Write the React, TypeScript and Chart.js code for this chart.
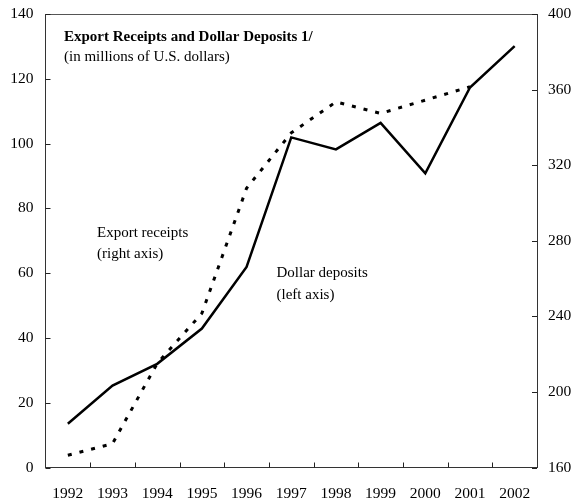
import React, { useEffect, useRef } from 'react';
import { Chart, registerables } from 'chart.js';

Chart.register(...registerables);

const FONT = '"Liberation Serif", "Times New Roman", serif';

const years = ['1992', '1993', '1994', '1995', '1996', '1997', '1998', '1999', '2000', '2001', '2002'];
// Dollar deposits, left axis (millions of U.S. dollars)
const dollarDeposits = [13.5, 25.3, 32.0, 42.9, 61.9, 101.9, 98.2, 106.4, 90.8, 117.3, 130.1];
// Export receipts, right axis (millions of U.S. dollars)
const exportReceipts: (number | null)[] = [166.5, 172.6, 215.1, 241.6, 307.8, 337.1, 353.5, 347.4, 354.4, 361.5, null];

const leftMin = 0;
const leftMax = 140;
const leftStep = 20;
const rightMin = 160;
const rightMax = 400;
const rightStep = 40;

const titleText = 'Export Receipts and Dollar Deposits 1/';
const subtitleText = '(in millions of U.S. dollars)';
const exportLabel = ['Export receipts', '(right axis)'];
const depositLabel = ['Dollar deposits', '(left axis)'];

const decorPlugin = {
  id: 'decor',
  afterDatasetsDraw(chart: any) {
    const { ctx, chartArea, scales } = chart;
    const { left, right, top, bottom } = chartArea;
    const tl = 5;
    ctx.save();
    // top border
    ctx.strokeStyle = '#555';
    ctx.lineWidth = 1;
    ctx.beginPath();
    ctx.moveTo(left, top + 0.5);
    ctx.lineTo(right, top + 0.5);
    ctx.stroke();
    ctx.strokeStyle = '#222';
    // inside tick marks on x axis at category boundaries
    const x = scales.x;
    ctx.beginPath();
    for (let i = 0; i < years.length - 1; i++) {
      const px = Math.round((x.getPixelForValue(i) + x.getPixelForValue(i + 1)) / 2) + 0.5;
      ctx.moveTo(px, bottom);
      ctx.lineTo(px, bottom - tl);
    }
    // left axis ticks
    const yL = scales.yL;
    yL.ticks.forEach((t: any) => {
      const py = Math.round(yL.getPixelForValue(t.value)) + 0.5;
      ctx.moveTo(left, py);
      ctx.lineTo(left + tl, py);
    });
    const yR = scales.yR;
    yR.ticks.forEach((t: any) => {
      const py = Math.round(yR.getPixelForValue(t.value)) + 0.5;
      ctx.moveTo(right, py);
      ctx.lineTo(right - tl, py);
    });
    ctx.stroke();

    // texts
    ctx.fillStyle = '#000';
    ctx.textBaseline = 'middle';
    ctx.textAlign = 'left';
    ctx.font = `bold 15px ${FONT}`;
    ctx.fillText(titleText, left + 18.5, top + 23);
    ctx.font = `15px ${FONT}`;
    ctx.fillText(subtitleText, left + 18.5, top + 43);
    ctx.fillText(exportLabel[0], left + 51.5, top + 219);
    ctx.fillText(exportLabel[1], left + 51.5, top + 240);
    ctx.fillText(depositLabel[0], left + 231, top + 259);
    ctx.fillText(depositLabel[1], left + 231, top + 281);
    ctx.restore();
  },
};

export default function App() {
  const ref = useRef<HTMLCanvasElement>(null);
  useEffect(() => {
    const canvas = ref.current;
    if (!canvas) return;
    const tickFont = { family: FONT, size: 15.5 };
    const chart = new Chart(canvas, {
      type: 'line',
      data: {
        labels: years,
        datasets: [
          {
            label: 'Dollar deposits (left axis)',
            data: dollarDeposits,
            yAxisID: 'yL',
            borderColor: '#000',
            borderWidth: 2.5,
            pointRadius: 0,
            tension: 0,
            fill: false,
          },
          {
            label: 'Export receipts (right axis)',
            data: exportReceipts,
            yAxisID: 'yR',
            borderColor: '#000',
            borderWidth: 3,
            borderDash: [4, 8],
            pointRadius: 0,
            tension: 0,
            fill: false,
            spanGaps: false,
          },
        ],
      },
      options: {
        responsive: false,
        animation: false,
        events: [],
        layout: { padding: { top: 14, left: 0, right: 0, bottom: 0 } },
        plugins: {
          legend: { display: false },
          tooltip: { enabled: false },
          title: { display: false },
        },
        scales: {
          x: {
            type: 'category',
            offset: true,
            grid: { display: false, drawTicks: false },
            border: { display: true, color: '#333', width: 1 },
            ticks: { color: '#000', font: tickFont, padding: 17, maxRotation: 0, autoSkip: false },
            afterFit: (s: any) => {
              s.height = 34.5;
              s.paddingLeft = 0;
              s.paddingRight = 0;
            },
          },
          yL: {
            type: 'linear',
            position: 'left',
            min: leftMin,
            max: leftMax,
            grid: { display: false, drawTicks: false },
            border: { display: true, color: '#333', width: 1 },
            ticks: { stepSize: leftStep, color: '#000', font: tickFont, padding: 12 },
            afterFit: (s: any) => {
              s.width = 45.5;
              s.paddingTop = 0;
              s.paddingBottom = 0;
            },
          },
          yR: {
            type: 'linear',
            position: 'right',
            min: rightMin,
            max: rightMax,
            grid: { display: false, drawTicks: false },
            border: { display: true, color: '#333', width: 1 },
            ticks: { stepSize: rightStep, color: '#000', font: tickFont, padding: 11 },
            afterFit: (s: any) => {
              s.width = 42;
              s.paddingTop = 0;
              s.paddingBottom = 0;
            },
          },
        },
      },
      plugins: [decorPlugin],
    });
    return () => chart.destroy();
  }, []);
  return (
    <div style={{ position: 'absolute', left: 0, top: 0, width: 579, height: 502, background: '#fff' }}>
      <canvas ref={ref} width={579} height={502} style={{ display: 'block' }} />
    </div>
  );
}
